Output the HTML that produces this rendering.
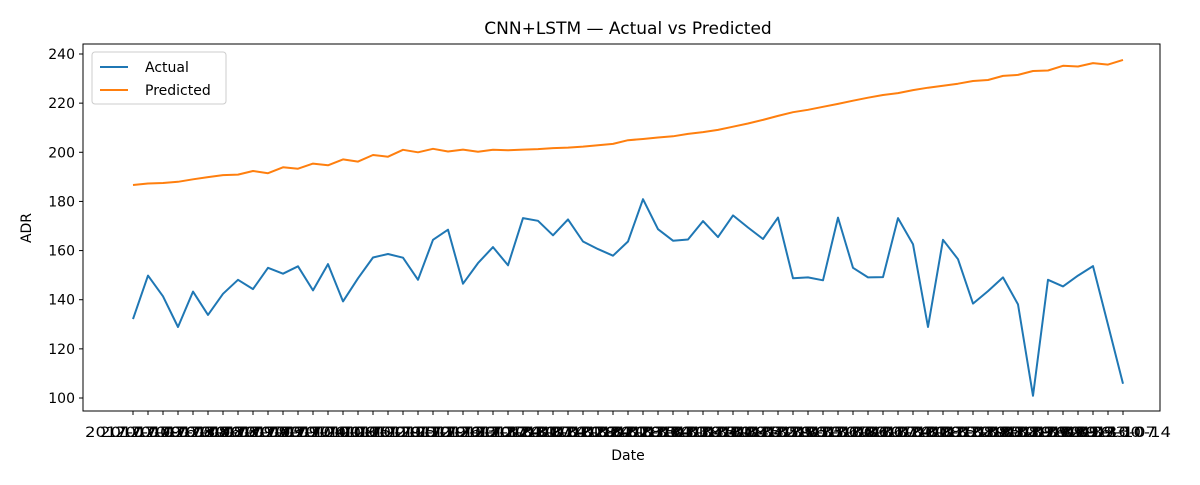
<!DOCTYPE html>
<html><head><meta charset="utf-8"><style>
body{margin:0;background:#fff}
svg text{font-family:"DejaVu Sans","Liberation Sans",sans-serif;fill:#000}
</style></head><body>
<svg id="chart" width="1200" height="480" xmlns="http://www.w3.org/2000/svg">
<rect width="1200" height="480" fill="#fff"/>
<text x="628" y="34" font-size="17" text-anchor="middle">CNN+LSTM — Actual vs Predicted</text>
<text x="628" y="460" font-size="14" text-anchor="middle">Date</text>
<text transform="translate(31,228) rotate(-90)" font-size="14" text-anchor="middle">ADR</text>
<g id="yticks"></g><g id="xticks"></g><g id="series"></g>
<rect x="83" y="44" width="1077" height="367" fill="none" stroke="#000" stroke-width="1"/>
<g>
<rect x="92" y="52" width="134" height="52" rx="3" fill="#fff" fill-opacity="0.8" stroke="#ccc"/>
<line x1="100" y1="67" x2="128" y2="67" stroke="#1f77b4" stroke-width="2"/>
<text x="145" y="72" font-size="14">Actual</text>
<line x1="100" y1="90" x2="128" y2="90" stroke="#ff7f0e" stroke-width="2"/>
<text x="145" y="95" font-size="14">Predicted</text>
</g>
</svg>
<script>
const actual=[132.1,149.8,141.4,128.9,143.3,133.8,142.4,148.1,144.3,153.0,150.6,153.6,143.8,154.5,139.3,148.7,157.2,158.6,157.1,148.1,164.4,168.5,146.5,154.9,161.4,154.0,173.2,172.1,166.2,172.7,163.7,160.6,157.9,163.7,180.9,168.7,164.0,164.5,172.0,165.5,174.3,169.4,164.7,173.4,148.7,149.1,147.9,173.4,153.0,149.1,149.2,173.2,162.6,128.9,164.4,156.5,138.4,143.5,149.1,138.1,100.9,148.1,145.4,149.8,153.7,129.8,105.8];
const predicted=[186.7,187.3,187.5,188.0,189.0,189.9,190.7,190.9,192.4,191.5,193.9,193.3,195.4,194.7,197.1,196.2,198.9,198.2,201.0,200.0,201.4,200.3,201.1,200.2,201.0,200.8,201.1,201.3,201.7,201.9,202.3,202.9,203.4,204.9,205.4,206.0,206.5,207.5,208.2,209.1,210.4,211.7,213.2,214.8,216.3,217.3,218.5,219.7,221.0,222.2,223.3,224.1,225.3,226.3,227.1,227.9,229.0,229.4,231.1,231.5,233.1,233.3,235.2,234.9,236.3,235.7,237.6];
const yTicks=[100,120,140,160,180,200,240,220];
const startDate="2017-07-09";
const dates=(function(){const out=[];const d0=new Date(startDate+"T00:00:00Z");for(let i=0;i<actual.length;i++){const d=new Date(d0.getTime()+i*7*864e5);out.push(d.toISOString().slice(0,10));}return out;})();
const NS="http://www.w3.org/2000/svg";
const x0=133,x1=1123;
function xs(i){return x0+(x1-x0)*i/(actual.length-1);}
function ys(v){return 398-(v-100)*(344/140);}
const yg=document.getElementById('yticks');
yTicks.forEach(v=>{
 const l=document.createElementNS(NS,'line');
 
 
 l.setAttribute('x1',79);l.setAttribute('x2',83);l.setAttribute('y1',ys(v));l.setAttribute('y2',ys(v));l.setAttribute('stroke','#000');yg.appendChild(l);
 const t=document.createElementNS(NS,'text');
 
 
 t.setAttribute('x',75);t.setAttribute('y',ys(v)+5);t.setAttribute('font-size','14');t.setAttribute('text-anchor','end');t.textContent=v;yg.appendChild(t);
});
const xg=document.getElementById('xticks');
dates.forEach((d,i)=>{
 const l=document.createElementNS(NS,'line');
 
 
 l.setAttribute('x1',xs(i));l.setAttribute('x2',xs(i));l.setAttribute('y1',411);l.setAttribute('y2',415);l.setAttribute('stroke','#000');xg.appendChild(l);
 const t=document.createElementNS(NS,'text');
 
 
 t.setAttribute('x',xs(i));t.setAttribute('y',437);t.setAttribute('font-size','14');t.setAttribute('text-anchor','middle');
 t.setAttribute('textLength','96');t.setAttribute('lengthAdjust','spacingAndGlyphs');
 t.textContent=d;xg.appendChild(t);
});
const sg=document.getElementById('series');
[[actual,'#1f77b4','actual-line'],[predicted,'#ff7f0e','predicted-line']].forEach(([arr,c,n])=>{
 const p=document.createElementNS(NS,'polyline');
 
 
 p.setAttribute('points',arr.map((v,i)=>xs(i).toFixed(1)+','+ys(v).toFixed(1)).join(' '));
 p.setAttribute('fill','none');p.setAttribute('stroke',c);p.setAttribute('stroke-width','2');p.setAttribute('stroke-linejoin','round');
 sg.appendChild(p);
});
</script>
</body></html>
